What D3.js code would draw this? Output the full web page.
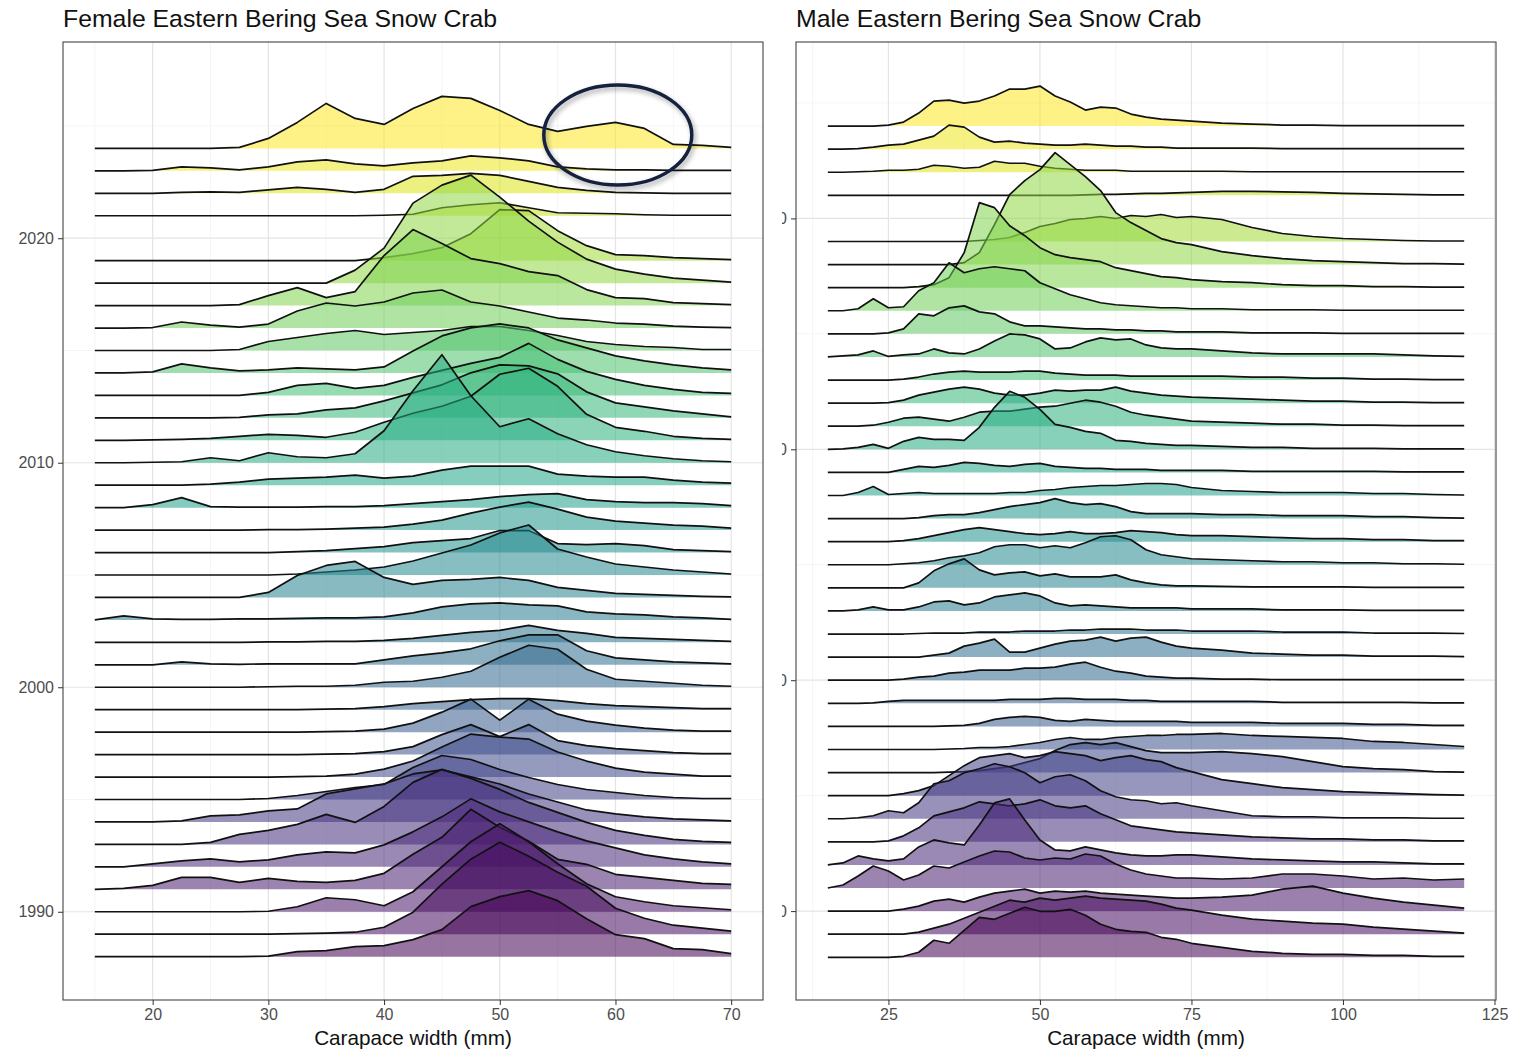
<!DOCTYPE html>
<html>
<head>
<meta charset="utf-8">
<script src="https://cdn.jsdelivr.net/npm/d3@7"></script>
<style>
  body { margin: 0; background: #fff; }
  svg { display: block; }
  text { font-family: "Liberation Sans", Arial, Helvetica, sans-serif; }
</style>
</head>
<body>
<svg id="chart" width="1519" height="1052"></svg>
<script>
// ---- data ----------------------------------------------------------------
// carapace width bins (mm)
const femaleWidths = [15, 17.5, 20, 22.5, 25, 27.5, 30, 32.5, 35, 37.5, 40, 42.5, 45, 47.5, 50, 52.5, 55, 57.5, 60, 62.5, 65, 67.5, 70];
const maleWidths = [15, 17.5, 20, 22.5, 25, 27.5, 30, 32.5, 35, 37.5, 40, 42.5, 45, 47.5, 50, 52.5, 55, 57.5, 60, 62.5, 65, 67.5, 70, 72.5, 75, 80, 85, 90, 95, 100, 105, 110, 115, 120];

// survey years (no survey in 2020)
const surveyYears = [1988, 1989, 1990, 1991, 1992, 1993, 1994, 1995, 1996, 1997, 1998, 1999, 2000, 2001, 2002, 2003, 2004, 2005,
  2006, 2007, 2008, 2009, 2010, 2011, 2012, 2013, 2014, 2015, 2016, 2017, 2018, 2019, 2021, 2022, 2023, 2024];

// scaled density (100 = ~4.4 ridge rows), one row per survey year
const femaleDensity = [
  [0, 0, 0, 0, 0, 0, 0.5, 5, 6, 10, 11, 17, 27, 50, 60, 66, 56, 38, 22, 18, 8, 7, 3],        // 1988
  [0, 0, 0, 0, 0, 0, 0, 0.5, 1, 2, 7, 22, 50, 75, 92, 78, 62, 48, 26, 16, 9, 6, 3],          // 1989
  [0, 0, 0, 0, 0, 0, 0.5, 5, 14, 12, 6, 20, 45, 70, 88, 70, 48, 28, 15, 10, 6, 4, 2],        // 1990
  [0, 1, 4, 12, 12, 7, 11, 8, 7, 9, 16, 35, 52, 80, 62, 48, 30, 25, 15, 12, 9, 6, 5],        // 1991
  [0, 0, 3, 6, 8, 5, 7, 12, 15, 14, 22, 35, 50, 68, 55, 45, 35, 26, 19, 12, 8, 5, 3],        // 1992
  [0, 0, 0, 0, 2, 10, 14, 20, 30, 22, 38, 62, 75, 66, 55, 42, 32, 22, 14, 9, 5, 3, 2],       // 1993
  [0, 0, 0, 1, 6, 7, 11, 13, 28, 33, 38, 48, 52, 45, 38, 28, 20, 12, 8, 5, 3, 2, 1],         // 1994
  [0, 0, 0, 0, 0, 0, 1, 4, 8, 12, 15, 32, 44, 40, 30, 22, 15, 10, 7, 4, 2, 1, 1],            // 1995
  [0, 0, 0, 0, 0, 0, 0, 0.5, 1, 3, 8, 16, 30, 43, 40, 38, 25, 16, 9, 5, 3, 1, 1],            // 1996
  [0, 0, 0, 0, 0, 0, 0, 0, 0.5, 1, 3, 8, 20, 30, 18, 30, 14, 9, 6, 4, 2, 1, 1],              // 1997
  [0, 0, 0, 0, 0, 0, 0, 0, 0.5, 1, 3, 9, 20, 33, 12, 33, 18, 11, 7, 4, 2, 1, 1],             // 1998
  [0, 0, 0, 0, 0, 0, 0, 0, 0.5, 1, 3, 6, 8, 10, 11, 11, 9, 6, 4, 3, 2, 1, 1],                // 1999
  [0, 0, 0, 0, 0, 0, 0.5, 1, 1, 2, 5, 6, 10, 16, 30, 42, 38, 18, 8, 6, 4, 2, 1],             // 2000
  [0, 0, 0, 3, 1, 0.5, 1, 1, 1, 1, 5, 9, 12, 16, 24, 30, 30, 14, 7, 5, 3, 2, 1],             // 2001
  [0, 0, 0, 0, 0, 0, 0.5, 0.5, 1, 1, 2, 4, 7, 10, 12, 17, 12, 9, 5, 4, 3, 2, 1],             // 2002
  [0, 4, 1, 0.5, 0.5, 1, 1, 1.5, 2, 2, 3, 7, 13, 16, 17, 15, 14, 8, 6, 5, 3, 2, 0.5],        // 2003
  [0, 0, 0, 0, 0, 0, 5, 22, 32, 36, 20, 13, 17, 18, 20, 17, 10, 7, 4, 3, 2, 1, 0.5],         // 2004
  [0, 0, 0, 0, 0, 0, 0, 1, 3, 5, 8, 14, 22, 30, 42, 50, 26, 18, 11, 8, 5, 3, 1],             // 2005
  [0, 0, 0, 0, 0, 0, 0, 1, 2, 4, 6, 10, 12, 14, 22, 22, 9, 8, 9, 7, 3, 2, 1],                // 2006
  [0, 0, 0, 0, 0, 0, 0.5, 0.5, 1, 2, 3, 6, 10, 17, 23, 28, 21, 13, 9, 7, 5, 4, 2],           // 2007
  [0, 0, 3, 10, 1, 0.5, 0.5, 0.5, 1, 1, 2, 4, 6, 8, 11, 13, 14, 8, 6, 5, 5, 4, 2],           // 2008
  [0, 0, 0, 0, 1, 3, 6, 7, 8, 10, 7, 9, 15, 19, 19, 19, 11, 9, 8, 8, 5, 3, 2],               // 2009
  [0, 0, 0.5, 1, 5, 2, 10, 6, 5, 9, 32, 72, 108, 67, 36, 44, 29, 18, 11, 7, 4, 2, 1],        // 2010
  [0, 0, 0.5, 1, 2, 4, 6, 5, 3, 8, 18, 27, 34, 44, 66, 72, 54, 26, 13, 9, 4, 2, 1],          // 2011
  [0, 0, 0, 0, 0, 0.5, 3, 4, 8, 10, 17, 25, 33, 45, 53, 52, 44, 26, 15, 11, 7, 4, 1],        // 2012
  [0, 0, 0, 0, 0, 0, 3, 10, 12, 7, 10, 18, 25, 32, 38, 52, 36, 24, 16, 10, 6, 3, 2],         // 2013
  [0, 0, 1, 9, 5, 2, 3, 5, 4, 3, 6, 22, 37, 45, 49, 45, 33, 25, 17, 12, 8, 5, 3],            // 2014
  [0, 0, 0, 0, 0, 1, 9, 13, 17, 20, 16, 18, 20, 24, 24, 20, 15, 9, 6, 4, 3, 1, 1],           // 2015
  [0, 0, 0.5, 6, 3, 1, 4, 17, 25, 22, 26, 35, 38, 26, 22, 16, 10, 8, 5, 4, 2, 1, 0.5],       // 2016
  [0, 0, 0, 0, 0, 1, 10, 18, 8, 14, 50, 76, 62, 47, 42, 34, 30, 16, 8, 7, 3, 2, 1],          // 2017
  [0, 0, 0, 0, 0, 0, 0, 0, 0, 13, 35, 80, 98, 108, 86, 62, 41, 24, 14, 9, 5, 3, 1],          // 2018
  [0, 0, 0, 0, 0, 0, 0, 0, 0, 0, 3, 7, 13, 27, 51, 50, 30, 15, 6, 5, 3, 2, 1],               // 2019
  [0, 0, 0, 0, 0, 0, 0, 0, 0, 0, 0.5, 1.5, 8, 11, 13, 8, 3, 2.5, 2, 1, 0.5, 0.5, 0.5],       // 2021
  [0, 0, 0, 1, 1.5, 1, 3.5, 6, 4, 1, 4, 17, 18, 20, 18, 12, 6, 3, 1, 0.5, 0, 0, 0],          // 2022
  [0, 0, 0.5, 4, 3, 1, 4, 9, 11, 7, 5, 8, 10, 15, 13, 10, 4, 2, 1, 1, 0.5, 0.5, 0.5],        // 2023
  [0, 0, 0, 0, 0, 1, 10, 26, 45, 30, 24, 40, 52, 50, 38, 24, 17, 22, 26, 20, 4, 3, 1]        // 2024
];

const maleDensity = [
  [0, 0, 0, 0, 0, 1, 5, 17, 14, 27, 40, 38, 44, 50, 46, 46, 48, 42, 33, 28, 26, 25, 20, 18, 14, 10, 6, 4, 3, 3, 2, 2, 1, 1],        // 1988
  [0, 0, 0, 0, 0, 0, 2, 6, 10, 16, 22, 28, 34, 32, 36, 34, 36, 38, 36, 35, 34, 33, 30, 26, 24, 19, 15, 13, 11, 10, 7, 5, 3, 1],     // 1989
  [0, 0, 0, 0, 0, 2, 5, 10, 12, 9, 14, 18, 20, 22, 18, 20, 19, 20, 18, 17, 16, 15, 14, 13, 13, 14, 16, 22, 25, 18, 13, 9, 6, 3],    // 1990
  [0, 3, 12, 22, 17, 8, 13, 22, 20, 26, 32, 37, 36, 30, 28, 30, 29, 34, 32, 24, 18, 14, 12, 10, 10, 9, 10, 14, 14, 12, 9, 10, 8, 9], // 1991
  [0, 2, 9, 6, 4, 6, 18, 25, 22, 20, 40, 62, 66, 45, 25, 15, 14, 18, 15, 12, 10, 9, 9, 10, 10, 8, 6, 5, 4, 3, 3, 2, 1, 1],          // 1992
  [0, 0, 0, 0, 1, 6, 14, 26, 30, 34, 40, 38, 36, 38, 42, 36, 34, 36, 28, 22, 16, 14, 12, 10, 9, 7, 5, 4, 3, 3, 2, 2, 1, 1],         // 1993
  [0, 0, 1, 3, 8, 6, 16, 35, 38, 46, 50, 55, 52, 46, 36, 42, 44, 38, 28, 22, 19, 18, 15, 16, 13, 8, 3, 2, 2, 1, 1, 1, 0.5, 0.5],    // 1994
  [0, 0, 0, 0, 0, 2, 5, 10, 20, 30, 38, 40, 42, 38, 40, 44, 42, 40, 35, 38, 40, 36, 34, 28, 24, 16, 12, 8, 6, 4, 3, 2, 1, 0.5],     // 1995
  [0, 0, 0, 0, 0, 0, 0, 0, 0.5, 1, 2, 4, 6, 10, 14, 22, 28, 30, 28, 30, 26, 22, 20, 20, 20, 21, 19, 16, 11, 6, 4, 3, 1, 0.5],       // 1996
  [0, 0, 0, 0, 0, 0, 0, 0, 0.5, 1, 2, 2, 3, 5, 7, 10, 12, 10, 10, 12, 13, 14, 14, 15, 15, 16, 14, 13, 12, 11, 8, 7, 5, 3],         // 1997
  [0, 0, 0, 0, 0, 0, 0, 0, 0.5, 1, 3, 7, 9, 10, 9, 6, 5, 7, 6, 5, 5, 5, 5, 5, 4, 4, 4, 3, 3, 3, 2, 2, 1, 1],                       // 1998
  [0, 0, 0, 0.5, 2, 3, 3, 3, 3, 3, 3, 3, 4, 4, 4, 5, 5, 4, 4, 4, 3, 3, 2, 2, 2, 2, 2, 1, 1, 1, 1, 1, 0.5, 0.5],                      // 1999
  [0, 0, 0, 0, 0, 1, 3, 4, 7, 8, 10, 10, 10, 12, 12, 13, 16, 18, 13, 9, 7, 4, 3, 2, 2, 1, 1, 0.5, 0.5, 0.5, 0.5, 0.5, 0.5, 0.5],     // 2000
  [0, 0, 0, 0, 0, 0, 0, 2, 4, 11, 14, 18, 5, 5, 9, 13, 16, 17, 20, 16, 19, 20, 15, 11, 9, 7, 4, 3, 2, 2, 1, 1, 1, 0.5],            // 2001
  [0, 0, 0, 0, 0, 0, 0.5, 1, 1, 1, 2, 2, 2, 3, 3, 3, 4, 4, 5, 5, 5, 4, 4, 4, 3, 3, 3, 2, 2, 2, 1, 1, 1, 0.5],                       // 2002
  [0, 0, 1, 4, 1, 1, 4, 9, 10, 6, 8, 14, 16, 18, 15, 8, 5, 6, 5, 4, 3, 3, 3, 3, 2, 2, 2, 1, 1, 1, 0.5, 0.5, 0.5, 0.5],              // 2003
  [0, 0, 0, 0, 0, 0, 5, 17, 24, 29, 18, 13, 15, 16, 12, 14, 11, 11, 11, 13, 8, 5, 3, 2, 2, 1.5, 1, 1, 1, 1, 0.5, 0.5, 0.5, 0.5],   // 2004
  [0, 0, 0, 0, 0, 1, 2, 4, 7, 9, 12, 18, 20, 20, 17, 19, 17, 22, 28, 29, 25, 15, 10, 8, 6, 5, 4, 3, 3, 2, 2, 1, 1, 0.5],           // 2005
  [0, 0, 0, 0, 0, 1, 3, 6, 9, 12, 14, 12, 10, 8, 7, 8, 10, 8, 8, 9, 11, 10, 9, 7, 6, 6, 5, 4, 3, 3, 2, 2, 1, 1],                   // 2006
  [0, 0, 0, 0, 0, 0, 1, 3, 4, 4, 6, 9, 12, 14, 16, 20, 16, 14, 15, 12, 7, 5, 5, 5, 5, 4, 4, 3, 3, 3, 2, 2, 1, 0.5],                // 2007
  [0, 0, 3, 9, 1, 2, 3, 2, 2, 2, 2, 2, 3, 3, 5, 6, 8, 9, 10, 10, 11, 12, 12, 11, 8, 5, 4, 3, 3, 3, 2, 2, 1, 0.5],                   // 2008
  [0, 0, 0, 0, 0, 3, 6, 5, 7, 10, 9, 7, 6, 8, 9, 6, 5, 4, 4, 3, 3, 3, 2, 2, 2, 2, 1, 1, 1, 1, 1, 0.5, 0.5, 0.5],                    // 2009
  [0, 0.5, 2, 5, 1, 8, 12, 10, 10, 9, 22, 42, 58, 52, 40, 25, 22, 18, 16, 9, 8, 6, 5, 4, 4, 3, 2, 2, 1, 1, 1, 0.5, 0.5, 0.5],      // 2010
  [0, 0, 0, 1, 4, 8, 9, 7, 5, 9, 14, 15, 15, 17, 19, 20, 23, 26, 24, 20, 14, 11, 9, 7, 5, 4, 3, 2, 2, 1, 1, 0.5, 0.5, 0.5],         // 2011
  [0, 0, 0, 0, 0.5, 3, 8, 11, 14, 16, 14, 10, 8, 8, 10, 13, 12, 13, 13, 16, 12, 10, 8, 7, 6, 5, 4, 3, 2, 2, 1, 1, 0.5, 0.5],       // 2012
  [0, 0, 0, 0, 0, 1, 3, 6, 8, 9, 8, 8, 8, 9, 9, 7, 6, 5, 5, 5, 4, 4, 4, 4, 4, 4, 3, 3, 2, 2, 1, 1, 0.5, 0.5],                       // 2013
  [0, 1, 2, 6, 0.5, 2, 3, 8, 4, 3, 8, 16, 23, 22, 18, 8, 9, 15, 19, 17, 18, 12, 9, 8, 8, 6, 4, 3, 3, 3, 3, 2, 1, 0.5],             // 2014
  [0, 0, 0, 0, 1, 5, 20, 18, 26, 28, 22, 20, 12, 8, 8, 7, 6, 5, 5, 4, 4, 3, 3, 2, 2, 2, 1, 1, 1, 0.5, 0.5, 0.5, 0.5, 0.5],         // 2015
  [0, 0, 2, 12, 3, 4, 20, 28, 48, 38, 42, 44, 42, 40, 28, 22, 16, 12, 8, 6, 5, 4, 3, 3, 2, 2, 1, 1, 1, 0.5, 0.5, 0.5, 0.5, 0.5],   // 2016
  [0, 0, 0, 0, 0, 0, 1, 3, 10, 35, 85, 80, 62, 52, 40, 33, 30, 28, 26, 20, 17, 14, 11, 10, 8, 6, 5, 3, 2, 2, 1, 1, 0.5, 0.5],      // 2017
  [0, 0, 0, 0, 0, 0, 0, 0, 0, 2, 12, 40, 70, 84, 95, 112, 100, 88, 74, 52, 42, 34, 26, 22, 20, 13, 9, 6, 4, 3, 2, 1, 1, 0.5],      // 2018
  [0, 0, 0, 0, 0, 0, 0, 0, 0, 0, 1, 2, 4, 9, 15, 18, 22, 23, 25, 23, 26, 25, 27, 24, 25, 22, 14, 8, 5, 3, 2, 1, 0.5, 0.5],          // 2019
  [0, 0, 0, 0, 0, 0, 0, 0, 0, 0, 0, 0, 0, 0, 0, 0, 0, 0.5, 1, 1, 1.5, 2, 2, 2.5, 3, 4, 4, 3.5, 3, 2, 1.5, 1, 0.5, 0.5],             // 2021
  [0, 0, 0.5, 1, 2, 2, 3, 7, 6, 4, 5, 11, 9, 9, 6, 4, 3, 2, 2, 2, 1, 1, 1, 1, 1, 1, 0.5, 0.5, 0.5, 0.5, 0.5, 0.5, 0.5, 0.5],       // 2022
  [0, 0, 0.5, 2, 4, 5, 9, 13, 24, 22, 12, 7, 8, 6, 5, 4, 4, 5, 4, 3, 3, 2, 2, 1, 1, 1, 1, 0.5, 0.5, 0.5, 0.5, 0.5, 0.5, 0.5],      // 2023
  [0, 0, 0, 0, 1, 4, 13, 25, 26, 23, 25, 30, 37, 37, 40, 30, 24, 16, 19, 18, 12, 9, 7, 6, 5, 3, 2, 1, 1, 0.5, 0.5, 0.5, 0.5, 0.5]  // 2024
];

const femaleXTicks = [20, 30, 40, 50, 60, 70];
const femaleXMinor = [15, 25, 35, 45, 55, 65];
const maleXTicks = [25, 50, 75, 100, 125];
const maleXMinor = [12.5, 37.5, 62.5, 87.5, 112.5];
const yearTicks = [1990, 2000, 2010, 2020];
const yearMinor = [1995, 2005, 2015, 2025];

// ---- drawing -------------------------------------------------------------
const svg = d3.select("#chart");
const defs = svg.append("defs");

defs.append("filter")
  .attr("id", "shadow")
  .attr("x", "-20%").attr("y", "-20%").attr("width", "140%").attr("height", "150%")
  .append("feDropShadow")
  .attr("dx", 2).attr("dy", 3).attr("stdDeviation", 2.5)
  .attr("flood-color", "#000").attr("flood-opacity", 0.35);

const color = d3.scaleSequential(d3.interpolateViridis).domain([1988, 2024]);

function drawPanel(p) {
  const x = d3.scaleLinear().domain(p.xDomain).range([p.left, p.right]);
  const y = d3.scaleLinear().domain(p.yDomain).range([p.bottom, p.top]);
  // density -> offset in years (ridge height)
  const h = d3.scaleLinear().domain([0, 100]).range([0, p.rowsPer100]);

  const g = svg.append("g");

  // grid
  const grid = g.append("g");
  grid.selectAll(".vmin").data(p.xMinor).join("line")
    .attr("x1", d => x(d)).attr("x2", d => x(d))
    .attr("y1", p.top).attr("y2", p.bottom)
    .attr("stroke", "#f2f2f2").attr("stroke-width", 0.8);
  grid.selectAll(".hmin").data(yearMinor).join("line")
    .attr("x1", p.left).attr("x2", p.right)
    .attr("y1", d => y(d)).attr("y2", d => y(d))
    .attr("stroke", "#f2f2f2").attr("stroke-width", 0.8);
  grid.selectAll(".vmaj").data(p.xTicks).join("line")
    .attr("x1", d => x(d)).attr("x2", d => x(d))
    .attr("y1", p.top).attr("y2", p.bottom)
    .attr("stroke", "#e4e4e4").attr("stroke-width", 1.2);
  grid.selectAll(".hmaj").data(yearTicks).join("line")
    .attr("x1", p.left).attr("x2", p.right)
    .attr("y1", d => y(d)).attr("y2", d => y(d))
    .attr("stroke", "#e4e4e4").attr("stroke-width", 1.2);

  // ridges: latest year at the back, earliest in front
  const rows = surveyYears.map((yr, i) => ({
    year: yr,
    pts: p.widths.map((w, j) => ({ w: w, v: p.density[i][j] }))
  })).sort((a, b) => b.year - a.year);

  const ridges = g.append("g");
  rows.forEach(r => {
    const area = d3.area()
      .x(d => x(d.w))
      .y0(y(r.year))
      .y1(d => y(r.year + h(d.v)));
    const line = d3.line()
      .x(d => x(d.w))
      .y(d => y(r.year + h(d.v)));
    ridges.append("path")
      .datum(r.pts)
      .attr("d", area)
      .attr("fill", color(r.year))
      .attr("fill-opacity", 0.55);
    ridges.append("path")
      .datum(r.pts)
      .attr("d", line)
      .attr("fill", "none")
      .attr("stroke", "#111")
      .attr("stroke-width", 1.7)
      .attr("stroke-linejoin", "round");
  });

  // border
  g.append("rect")
    .attr("x", p.left).attr("y", p.top)
    .attr("width", p.right - p.left).attr("height", p.bottom - p.top)
    .attr("fill", "none").attr("stroke", "#444").attr("stroke-width", 1.1);

  // x axis
  const xAxis = g.append("g")
    .attr("transform", `translate(0,${p.bottom})`)
    .call(d3.axisBottom(x).tickValues(p.xTicks).tickSize(5).tickPadding(4));
  xAxis.select(".domain").remove();
  xAxis.selectAll(".tick line").attr("stroke", "#333");
  xAxis.selectAll(".tick text")
    .attr("fill", "#4d4d4d").attr("font-size", 16)
    .attr("font-family", "Liberation Sans, Arial, sans-serif");

  // y axis
  const yAxis = g.append("g")
    .attr("transform", `translate(${p.left},0)`)
    .call(d3.axisLeft(y).tickValues(yearTicks).tickFormat(d3.format("d")).tickSize(5).tickPadding(4));
  yAxis.select(".domain").remove();
  yAxis.selectAll(".tick line").attr("stroke", "#333");
  yAxis.selectAll(".tick text")
    .attr("fill", "#4d4d4d").attr("font-size", 16)
    .attr("font-family", "Liberation Sans, Arial, sans-serif");
  if (p.clipY) {
    // labels of this panel sit under the neighbouring panel: only a sliver shows
    defs.append("clipPath").attr("id", "yclip")
      .append("rect").attr("x", p.clipY - p.left).attr("y", -100)
      .attr("width", p.left - p.clipY).attr("height", 200);
    yAxis.selectAll(".tick text").attr("clip-path", "url(#yclip)");
  }

  // titles
  g.append("text")
    .attr("x", p.left).attr("y", 27)
    .attr("font-size", 24.8).attr("fill", "#111")
    .text(p.title);
  g.append("text")
    .attr("x", (p.left + p.right) / 2).attr("y", 1045)
    .attr("text-anchor", "middle")
    .attr("font-size", 20.7).attr("fill", "#111")
    .text("Carapace width (mm)");

  return { x, y };
}

const fem = drawPanel({
  title: "Female Eastern Bering Sea Snow Crab",
  left: 63, right: 763, top: 42, bottom: 1000,
  xDomain: [12.25, 72.75], yDomain: [1986.07, 2028.74],
  rowsPer100: 4.455,
  widths: femaleWidths, density: femaleDensity,
  xTicks: femaleXTicks, xMinor: femaleXMinor
});

drawPanel({
  title: "Male Eastern Bering Sea Snow Crab",
  left: 796, right: 1496, top: 42, bottom: 1000,
  xDomain: [9.75, 125.25], yDomain: [1986.15, 2027.64],
  rowsPer100: 4.331,
  widths: maleWidths, density: maleDensity,
  xTicks: maleXTicks, xMinor: maleXMinor,
  clipY: 782
});

// highlight around the 2024 female tail
svg.append("ellipse")
  .attr("cx", fem.x(60.2)).attr("cy", fem.y(2028.74) + 93)
  .attr("rx", 74).attr("ry", 50)
  .attr("fill", "none")
  .attr("stroke", "#14213d")
  .attr("stroke-width", 3.5)
  .attr("filter", "url(#shadow)");
</script>
</body>
</html>
